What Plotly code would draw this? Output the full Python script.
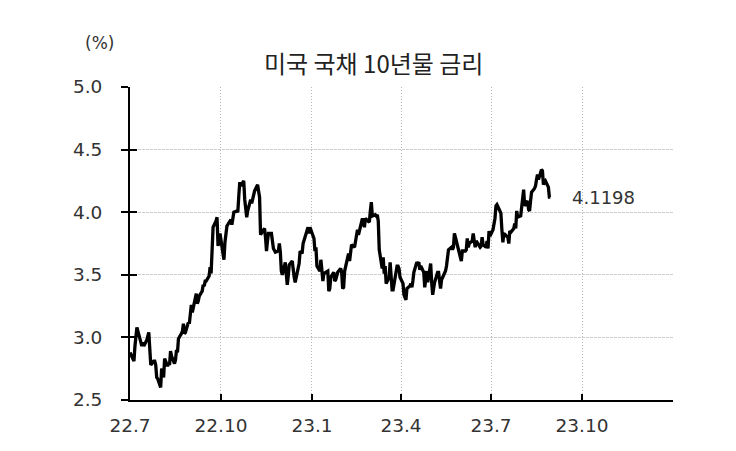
import pandas as pd
import plotly.graph_objects as go

# US 10Y Treasury yield (%), business days from 2022-07-01 to 2023-08-30
jul22 = [2.88, 2.81, 2.93, 3.00, 3.08, 2.99, 2.96, 2.93, 2.96, 2.93, 2.98, 3.03, 3.04, 2.91, 2.78, 2.81, 2.81, 2.78, 2.68, 2.67]
aug22 = [2.60, 2.75, 2.73, 2.68, 2.83, 2.77, 2.79, 2.78, 2.89, 2.85, 2.79, 2.82, 2.90, 2.88, 2.99, 3.03, 3.05, 3.11, 3.03, 3.04, 3.12, 3.11, 3.19]
sep22 = [3.26, 3.20, 3.35, 3.27, 3.29, 3.33, 3.37, 3.42, 3.41, 3.45, 3.45, 3.49, 3.56, 3.51, 3.70, 3.88, 3.93, 3.96, 3.73, 3.79, 3.83]
oct22 = [3.67, 3.62, 3.76, 3.83, 3.89, 3.94, 3.90, 3.95, 4.00, 4.01, 4.00, 4.13, 4.24, 4.21, 4.25, 4.10, 4.04, 3.96, 4.01, 4.10]
nov22 = [4.07, 4.10, 4.14, 4.17, 4.22, 4.14, 4.12, 3.82, 3.87, 3.80, 3.69, 3.77, 3.83, 3.83, 3.76, 3.71, 3.68, 3.69, 3.75, 3.68]
dec22 = [3.53, 3.50, 3.60, 3.51, 3.42, 3.49, 3.58, 3.61, 3.50, 3.48, 3.44, 3.48, 3.59, 3.69, 3.68, 3.67, 3.75, 3.84, 3.88, 3.83, 3.88]
jan23 = [3.79, 3.69, 3.72, 3.57, 3.53, 3.62, 3.54, 3.45, 3.51, 3.53, 3.37, 3.39, 3.48, 3.52, 3.45, 3.46, 3.49, 3.52, 3.55, 3.52]
feb23 = [3.39, 3.40, 3.53, 3.64, 3.67, 3.61, 3.67, 3.74, 3.72, 3.77, 3.81, 3.86, 3.82, 3.95, 3.92, 3.88, 3.95, 3.92, 3.92]
mar23 = [4.01, 4.08, 3.97, 3.98, 3.97, 3.98, 3.93, 3.70, 3.55, 3.64, 3.51, 3.57, 3.43, 3.48, 3.60, 3.44, 3.38, 3.38, 3.53, 3.57, 3.57, 3.55, 3.48]
apr23 = [3.43, 3.34, 3.31, 3.30, 3.39, 3.41, 3.43, 3.40, 3.45, 3.52, 3.60, 3.59, 3.60, 3.54, 3.57, 3.52, 3.40, 3.45, 3.53, 3.44]
may23 = [3.59, 3.44, 3.34, 3.39, 3.44, 3.52, 3.52, 3.45, 3.39, 3.46, 3.51, 3.53, 3.57, 3.65, 3.70, 3.72, 3.70, 3.72, 3.83, 3.80, 3.69, 3.64]
jun23 = [3.61, 3.69, 3.69, 3.70, 3.79, 3.72, 3.75, 3.77, 3.83, 3.79, 3.72, 3.77, 3.72, 3.73, 3.80, 3.74, 3.72, 3.77, 3.71, 3.85, 3.81]
jul23 = [3.86, 3.95, 4.05, 4.06, 4.01, 3.99, 3.86, 3.76, 3.83, 3.81, 3.80, 3.75, 3.85, 3.84, 3.87, 3.91, 3.87, 4.01, 3.96, 3.97]
aug23 = [4.05, 4.08, 4.18, 4.05, 4.09, 4.02, 4.01, 4.09, 4.16, 4.19, 4.21, 4.26, 4.30, 4.26, 4.34, 4.33, 4.22, 4.24, 4.25, 4.20, 4.12, 4.1198]

holidays = ["2022-07-04", "2022-09-05", "2022-10-10", "2022-11-11", "2022-11-24", "2022-12-26",
            "2023-01-02", "2023-01-16", "2023-02-20", "2023-05-29", "2023-06-19", "2023-07-04"]

tick_dates = ["2022-07-01", "2022-10-01", "2023-01-01", "2023-04-01", "2023-07-01", "2023-10-01", "2024-01-01"]
tick_labels = ["22.7", "22.10", "23.1", "23.4", "23.7", "23.10", ""]
y_ticks = [2.5, 3.0, 3.5, 4.0, 4.5, 5.0]

title_text = "미국 국채 10년물 금리"
unit_text = "(%)"

values = jul22 + aug22 + sep22 + oct22 + nov22 + dec22 + jan23 + feb23 + mar23 + apr23 + may23 + jun23 + jul23 + aug23
bday = pd.offsets.CustomBusinessDay(holidays=holidays)
dates = pd.date_range("2022-07-01", periods=len(values), freq=bday)

KFONT = "Noto Sans CJK KR"
NFONT = "DejaVu Sans"
TXT = "#333333"

L, R, T, B = 130, 63, 87, 51
W, H = 736, 451
PW, PH = W - L - R, H - T - B

fig = go.Figure()
fig.add_trace(go.Scatter(x=dates, y=values, mode="lines",
                         line=dict(color="black", width=3.3), showlegend=False, hoverinfo="skip"))
# invisible trace to carry the inner-tick overlay axis
fig.add_trace(go.Scatter(x=[dates[0]], y=[values[0]], mode="markers", marker=dict(opacity=0),
                         yaxis="y2", showlegend=False, hoverinfo="skip"))

fig.add_annotation(x=dates[-1], y=values[-1], text=f"{values[-1]:.4f}", showarrow=False,
                   xanchor="left", yanchor="middle", xshift=20,
                   font=dict(family=NFONT, size=18, color=TXT))
fig.add_annotation(x=(373 - L) / PW, y=1 + (T - 63) / PH, xref="paper", yref="paper",
                   text=title_text, showarrow=False,
                   font=dict(family=KFONT, size=24, color="#222222"), xanchor="center", yanchor="middle")
fig.add_annotation(x=(99 - L) / PW, y=1 + (T - 43) / PH, xref="paper", yref="paper",
                   text=unit_text, showarrow=False,
                   font=dict(family=NFONT, size=17, color=TXT), xanchor="center", yanchor="middle")

axis_tick_font = dict(family=NFONT, size=18.5, color=TXT)

fig.update_layout(
    width=W, height=H,
    margin=dict(l=L, r=R, t=T, b=B),
    paper_bgcolor="white", plot_bgcolor="white",
    xaxis=dict(type="date", range=["2022-07-01", "2024-01-01"],
               tickvals=tick_dates, ticktext=tick_labels,
               ticks="inside", ticklen=6, tickcolor="black", tickwidth=1.5,
               showline=True, linecolor="black", linewidth=2,
               showgrid=True, gridcolor="#b8b8b8", griddash="1px,2px", gridwidth=1,
               tickfont=axis_tick_font, zeroline=False, ticklabelstandoff=8),
    yaxis=dict(range=[2.5, 5.0], tickvals=y_ticks, ticktext=[f"{v:.1f}" for v in y_ticks],
               ticks="outside", ticklen=7, tickcolor="black", tickwidth=1.5,
               showline=True, linecolor="black", linewidth=2,
               showgrid=True, gridcolor="#cccccc", griddash="3px,1px", gridwidth=1,
               tickfont=axis_tick_font, zeroline=False, ticklabelstandoff=15),
    yaxis2=dict(range=[2.5, 5.0], overlaying="y", side="left", tickvals=y_ticks,
                ticks="inside", ticklen=7, tickcolor="black", tickwidth=1.5,
                showticklabels=False, showgrid=False, showline=False, zeroline=False),
)

fig.write_html("out.html")
